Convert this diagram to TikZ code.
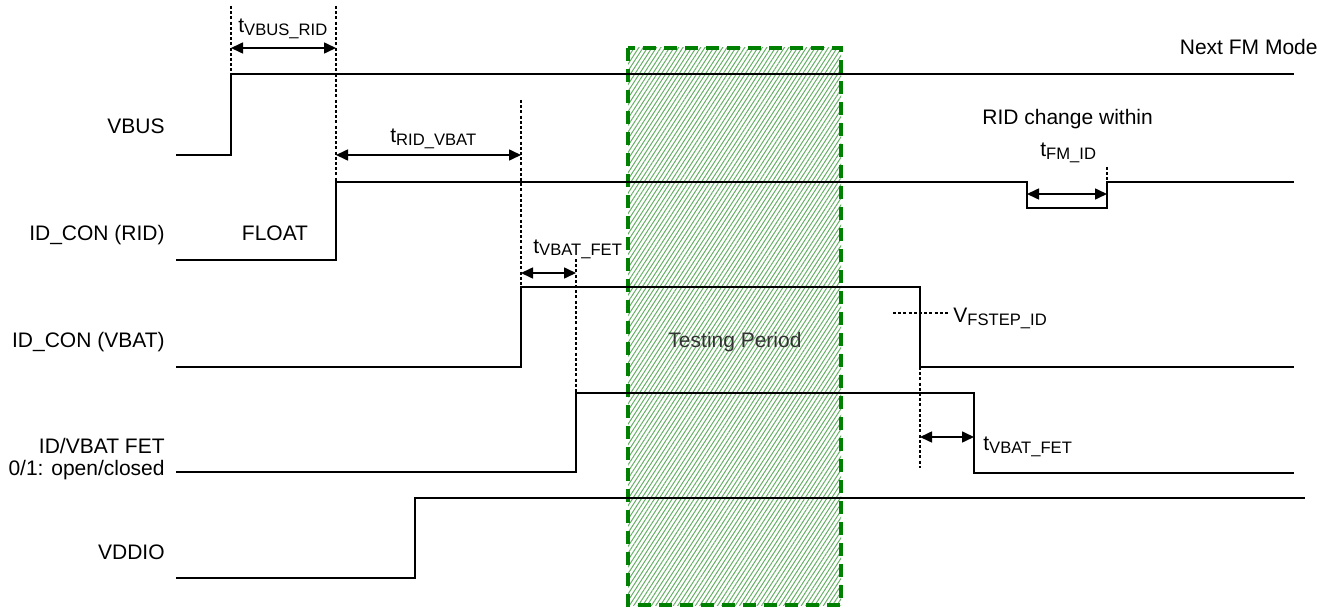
\documentclass[tikz,border=0pt]{standalone}
\usepackage{fontspec}
\setmainfont{Liberation Sans}
\usetikzlibrary{arrows.meta,patterns.meta}
\newcommand\subtx[1]{\raisebox{-1.5pt}{\fontsize{8.3}{9}\selectfont #1}}
\begin{document}
\begin{tikzpicture}[x=0.5pt,y=-0.5pt,
  sig/.style={line width=0.8pt,line join=miter},
  dotv/.style={line width=1.4pt,dash pattern=on 1.5pt off 1.1pt},
  dim/.style={line width=0.8pt,{Triangle[length=6pt,width=5.5pt]}-{Triangle[length=6pt,width=5.5pt]}},
  lbl/.style={font=\fontsize{10.5}{12.6}\selectfont,inner sep=0pt,anchor=base east},
  txt/.style={font=\fontsize{10.5}{12.6}\selectfont,inner sep=0pt,anchor=base west},
  testbox/.style={draw={rgb,255:red,0;green,128;blue,0},line width=1.6pt,dash pattern=on 6.5pt off 4pt,
    pattern={Lines[angle=57,distance=1.85pt,line width=0.5pt]},pattern color={rgb,255:red,100;green,175;blue,100}}]
\useasboundingbox (0,0) rectangle (1340,610);
% testing period box
\draw[testbox] (628,48) rectangle (841,605);
\node[font=\fontsize{10.5}{12.6}\selectfont,inner sep=0pt,anchor=base,text={rgb,255:red,50;green,50;blue,50}] (tp) at (735,347) {Testing Period};
% signal names
\node[lbl] (nvbus) at (165,134) {VBUS};
\node[lbl] (nrid) at (165,241) {ID\_CON (RID)};
\node[lbl] (nvbat) at (165,347) {ID\_CON (VBAT)};
\node[lbl] (nfet) at (165,453) {ID/VBAT FET};
\node[lbl] (nfet2) at (165,475) {0/1: open/closed};
\node[lbl] (nvdd) at (165,559) {VDDIO};
% waveforms
\draw[sig] (176,155) -- (231,155) -- (231,74) -- (1294,74);
\draw[sig] (176,260) -- (336,260) -- (336,182) -- (1027,182) -- (1027,208) -- (1107,208) -- (1107,182) -- (1294,182);
\draw[sig] (176,367) -- (521,367) -- (521,287) -- (920,287) -- (920,367) -- (1294,367);
\draw[sig] (176,472) -- (576,472) -- (576,393) -- (974,393) -- (974,473) -- (1294,473);
\draw[sig] (176,578) -- (415,578) -- (415,498) -- (1305,498);
% dotted markers
\coordinate (d1t) at (231,6); \coordinate (d1b) at (231,155);
\coordinate (d2t) at (336,6); \coordinate (d2b) at (336,260);
\coordinate (d3t) at (521,100); \coordinate (d3b) at (521,367);
\coordinate (d4t) at (576,259); \coordinate (d4b) at (576,472);
\coordinate (d5t) at (920,367); \coordinate (d5b) at (920,468);
\coordinate (d6t) at (1107,167); \coordinate (d6b) at (1107,182);
\coordinate (h1a) at (893,313); \coordinate (h1b) at (948,313);
\draw[dotv] (d1t) -- (d1b);
\draw[dotv] (d2t) -- (d2b);
\draw[dotv] (d3t) -- (d3b);
\draw[dotv] (d4t) -- (d4b);
\draw[dotv] (d5t) -- (d5b);
\draw[dotv] (d6t) -- (d6b);
\draw[dotv] (h1a) -- (h1b);
% dimension arrows
\coordinate (a1l) at (231,48); \coordinate (a1r) at (336,48);
\coordinate (a2l) at (336,155); \coordinate (a2r) at (521,155);
\coordinate (a3l) at (521,273); \coordinate (a3r) at (576,273);
\coordinate (a4l) at (1027,194); \coordinate (a4r) at (1107,194);
\coordinate (a5l) at (920,437); \coordinate (a5r) at (974,437);
\draw[dim] (a1l) -- (a1r);
\draw[dim] (a2l) -- (a2r);
\draw[dim] (a3l) -- (a3r);
\draw[dim] (a4l) -- (a4r);
\draw[dim] (a5l) -- (a5r);
% labels
\node[txt] (l1) at (238,33) {t\subtx{VBUS\_RID}};
\node[txt] (l2) at (390,143) {t\subtx{RID\_VBAT}};
\node[txt] (l3) at (533,253) {t\subtx{VBAT\_FET}};
\node[txt] (l4) at (1040,157) {t\subtx{FM\_ID}};
\node[txt] (l5) at (982,125) {RID change within};
\node[txt] (l6) at (983,450) {t\subtx{VBAT\_FET}};
\node[txt] (l7) at (953,322) {V\subtx{FSTEP\_ID}};
\node[lbl] (l8) at (1318,55) {Next FM Mode};
\node[font=\fontsize{10.5}{12.6}\selectfont,inner sep=0pt,anchor=base] (fl) at (275,241) {FLOAT};
\end{tikzpicture}
\end{document}
